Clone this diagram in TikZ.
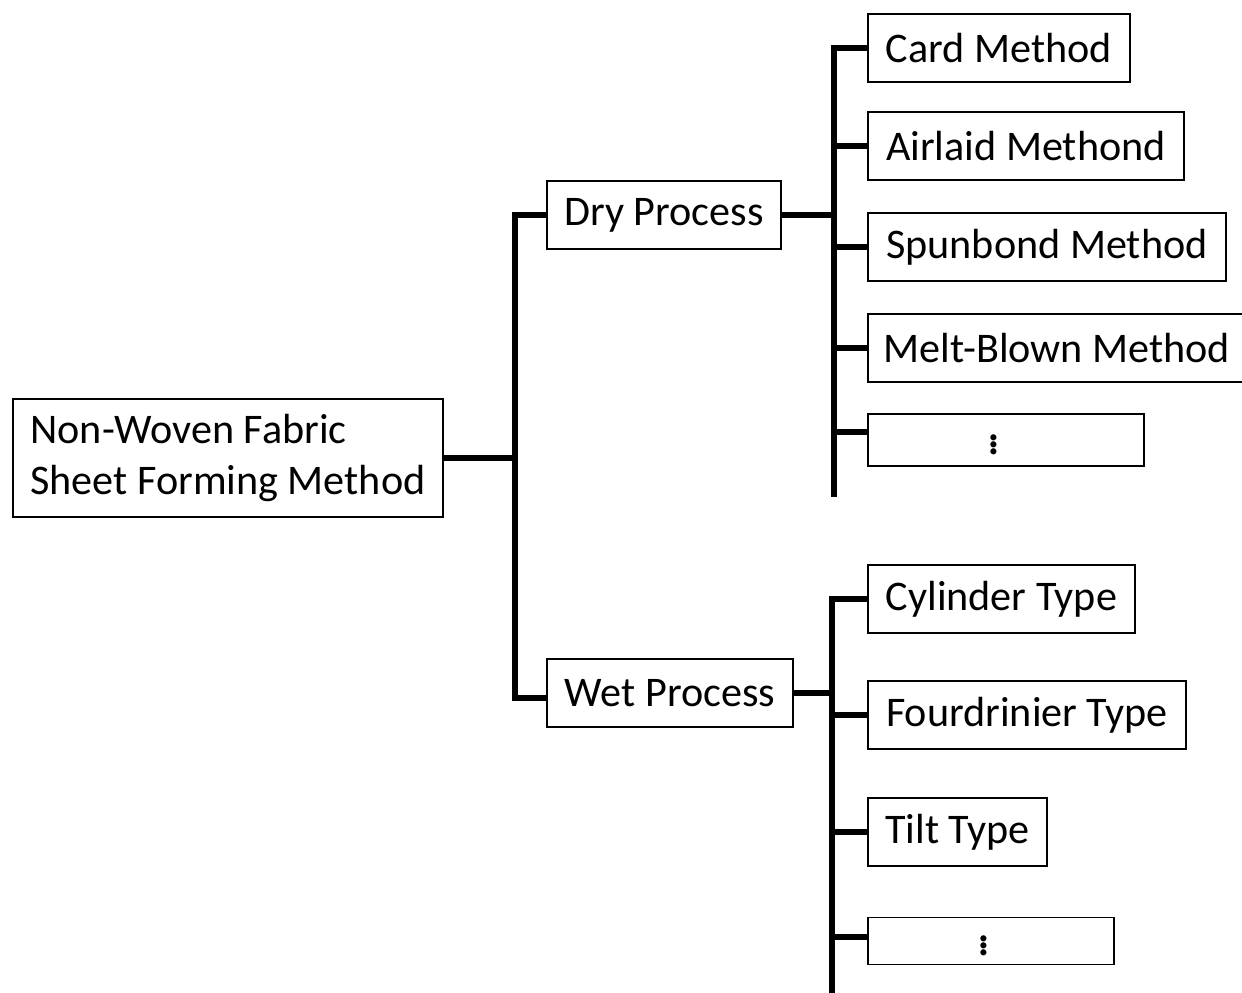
\documentclass[tikz,border=0pt]{standalone}
\usepackage{fontspec}
\setmainfont{Carlito}
\usetikzlibrary{calc}

\tikzset{
    box/.style={draw, line width=1.1pt, inner sep=0pt, minimum height=1.35cm,
        font=\fontsize{24}{28.5}\selectfont, anchor=west},
    morebox/.style={box, font=\fontsize{29}{34}\selectfont},
    link/.style={line width=3.2pt},
}

\begin{document}
\begin{tikzpicture}[x=0.02cm, y=-0.02cm]
    \useasboundingbox (0,0) rectangle (1242,993);

    % root and the two processes
    \node[box, minimum width=8.6cm, minimum height=2.36cm, align=left] (root) at (12,458)
        {Non-Woven Fabric\\Sheet Forming Method};
    \node[box, minimum width=4.68cm] (dry) at (546,215) {Dry Process};
    \node[box, minimum width=4.92cm] (wet) at (546,693) {Wet Process};

    % dry methods
    \node[box, minimum width=5.24cm] (card) at (867,48) {Card Method};
    \node[box, minimum width=6.32cm] (airlaid) at (867,146) {Airlaid Methond};
    \node[box, minimum width=7.16cm] (spunbond) at (867,247) {Spunbond Method};
    \node[box, minimum width=7.56cm] (meltblown) at (867,348) {Melt-Blown Method};
    \node[morebox, minimum width=5.52cm, minimum height=1.04cm] (drymore) at (867,440)
        {\hspace*{-0.48cm}$\vdots$};

    % wet types
    \node[box, minimum width=5.34cm] (cylinder) at (867,599) {Cylinder Type};
    \node[box, minimum width=6.36cm] (fourdrinier) at (867,715) {Fourdrinier Type};
    \node[box, minimum width=3.58cm] (tilt) at (867,832) {Tilt Type};
    \node[morebox, minimum width=4.92cm, minimum height=0.94cm] (wetmore) at (867,941)
        {\hspace*{-0.28cm}$\vdots$};

    \coordinate (mainbus) at (515,458);
    \coordinate (drybot) at (834,497);
    \coordinate (wetbot) at (832,1000);

    \draw[link] (root.east) -- (mainbus);
    \draw[link] (dry.west) -| (mainbus) |- ([yshift=-0.1cm]wet.west);

    \draw[link] (dry.east) -- (dry.east -| drybot);
    \draw[link] (card.west) -| (drybot);
    \foreach \n in {airlaid,spunbond,meltblown}
        \draw[link] (\n.west) -- (\n.west -| drybot);
    \draw[link] ([yshift=0.16cm]drymore.west) -- ([yshift=0.16cm]drymore.west -| drybot);

    \draw[link] (wet.east) -- (wet.east -| wetbot);
    \draw[link] (cylinder.west) -| (wetbot);
    \foreach \n in {fourdrinier,tilt}
        \draw[link] (\n.west) -- (\n.west -| wetbot);
    \draw[link] ([yshift=0.08cm]wetmore.west) -- ([yshift=0.08cm]wetmore.west -| wetbot);
\end{tikzpicture}
\end{document}
